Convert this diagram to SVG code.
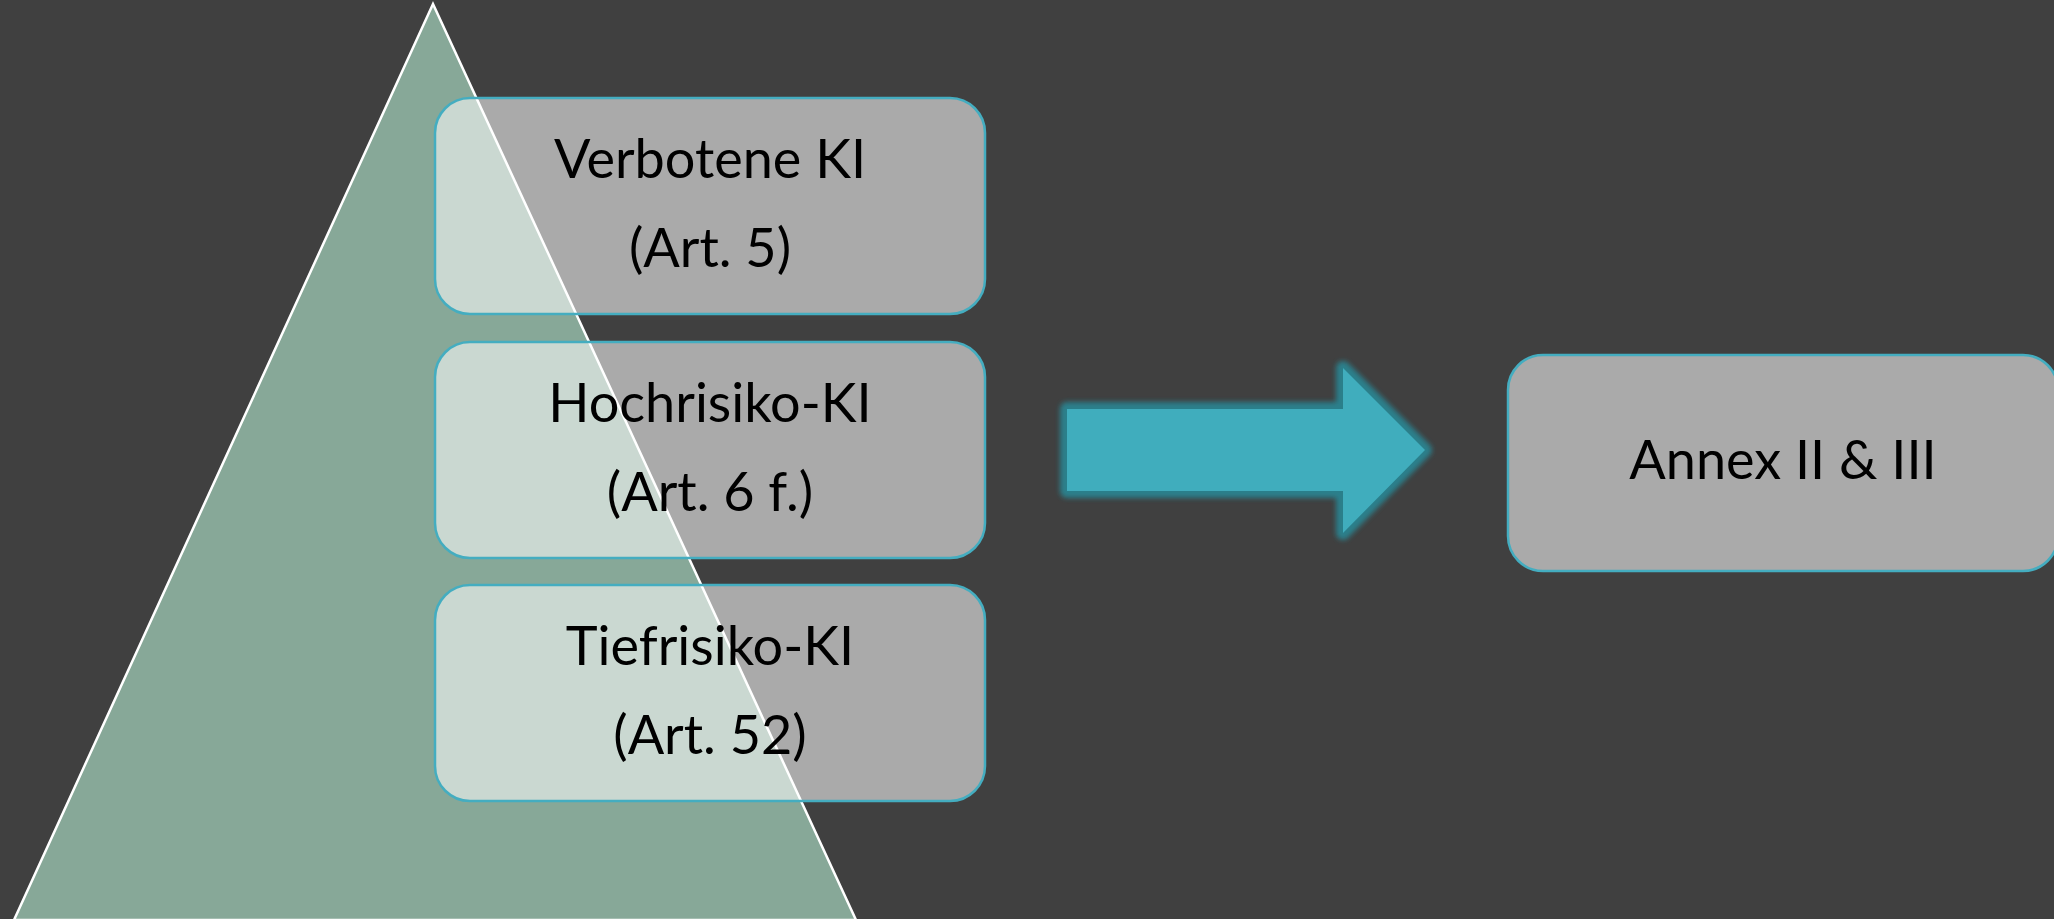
<svg xmlns="http://www.w3.org/2000/svg" width="2054" height="919" viewBox="0 0 2054 919">
<style>
.bg{fill:#404040}
.tri{fill:#87a898;stroke:#ffffff;stroke-width:2.5}
.box{fill:#ffffff;fill-opacity:0.555;stroke:#44adc0;stroke-width:2.5}
.box2{fill:#aaaaaa;stroke:#44adc0;stroke-width:2.5}
.t{font-family:Lato,"Liberation Sans",sans-serif;font-size:54px;fill:#000000;text-anchor:middle}
</style>
<defs>
<filter id="glow" x="-10%" y="-20%" width="120%" height="140%">
<feGaussianBlur stdDeviation="2.5"/>
</filter>
</defs>
<rect class="bg" x="0" y="0" width="2054" height="919"/>
<g id="pyramid">
<polygon class="tri" points="433,4 14,920 856,920"/>
</g>
<g id="node-verboten">
<rect class="box" x="435" y="98" width="550" height="216" rx="35" ry="35"/>
<text class="t" x="710" y="178">Verbotene KI</text>
<text class="t" x="710" y="267">(Art. 5)</text>
</g>
<g id="node-hochrisiko">
<rect class="box" x="435" y="342" width="550" height="216" rx="35" ry="35"/>
<text class="t" x="710" y="422">Hochrisiko-KI</text>
<text class="t" x="710" y="511">(Art. 6 f.)</text>
</g>
<g id="node-tiefrisiko">
<rect class="box" x="435" y="585" width="550" height="216" rx="35" ry="35"/>
<text class="t" x="710" y="665">Tiefrisiko-KI</text>
<text class="t" x="710" y="754">(Art. 52)</text>
</g>
<g id="connectors">
<polygon points="1067,409 1343,409 1343,368 1425,450 1343,533 1343,491 1067,491" fill="none" stroke="#2c7f8b" stroke-width="14" stroke-linejoin="round" filter="url(#glow)"/>
<polygon points="1067,409 1343,409 1343,368 1425,450 1343,533 1343,491 1067,491" fill="#40adbd"/>
</g>
<g id="node-annex">
<rect class="box2" x="1508" y="355" width="550" height="216" rx="35" ry="35"/>
<text class="t" x="1783" y="479">Annex II &amp; III</text>
</g>
</svg>
